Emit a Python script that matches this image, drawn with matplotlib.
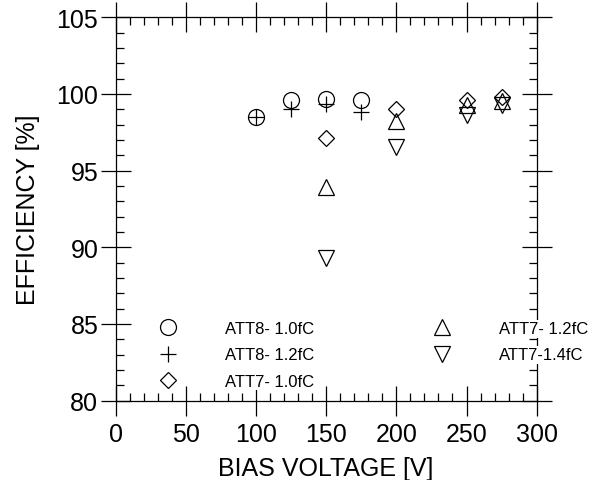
import matplotlib.pyplot as plt
from matplotlib.ticker import MultipleLocator

# Données
bias_att8 = [100, 125, 150, 175]
eff_att8_10 = [98.5, 99.6, 99.7, 99.6]
eff_att8_12 = [98.5, 99.0, 99.35, 98.85]

bias_att7 = [150, 200, 250, 275]
eff_att7_10 = [97.1, 99.0, 99.6, 99.8]
eff_att7_12 = [93.9, 98.25, 99.3, 99.55]
eff_att7_14 = [89.3, 96.55, 98.6, 99.3]

labels = ['ATT8- 1.0fC', 'ATT8- 1.2fC', 'ATT7- 1.0fC', 'ATT7- 1.2fC', 'ATT7-1.4fC']

plt.rcParams['font.family'] = ['Liberation Sans', 'DejaVu Sans']

fig = plt.figure(figsize=(5.96, 4.81), dpi=100)
ax = fig.add_axes([0.194, 0.165, 0.7065, 0.797])

style = dict(linestyle='none', color='black', markerfacecolor='none', markeredgewidth=0.9)
ax.plot(bias_att8, eff_att8_10, marker='o', markersize=11.5, label=labels[0], **style)
ax.plot(bias_att8, eff_att8_12, marker='+', markersize=12, label=labels[1], **style)
ax.plot(bias_att7, eff_att7_10, marker='D', markersize=8.2, label=labels[2], **style)
ax.plot(bias_att7, eff_att7_12, marker='^', markersize=11.5, label=labels[3], **style)
ax.plot(bias_att7, eff_att7_14, marker='v', markersize=11.5, label=labels[4], **style)

ax.set_xlim(0, 300)
ax.set_ylim(80, 105)
ax.xaxis.set_major_locator(MultipleLocator(50))
ax.xaxis.set_minor_locator(MultipleLocator(10))
ax.yaxis.set_major_locator(MultipleLocator(5))
ax.yaxis.set_minor_locator(MultipleLocator(1))

ax.tick_params(which='major', direction='inout', length=21, width=0.9,
               top=True, right=True, labelsize=18)
ax.tick_params(which='minor', direction='in', length=6, width=0.9, top=True, right=True)
ax.tick_params(axis='x', which='major', pad=5)
ax.tick_params(axis='y', which='major', pad=2)
for s in ax.spines.values():
    s.set_linewidth(0.9)

ax.set_xlabel('BIAS VOLTAGE [V]', fontsize=18, labelpad=7)
ax.set_ylabel('EFFICIENCY [%]', fontsize=18, labelpad=12)

leg = ax.legend(ncol=2, frameon=False, loc='upper left', bbox_to_anchor=(0.0896, 0.207),
                borderaxespad=0, borderpad=0, numpoints=1, handlelength=1.78,
                handletextpad=2.5, columnspacing=6.8, labelspacing=0.67,
                prop={'size': 12})
leg.set_zorder(5)
# fond blanc sous les textes (cache l'axe de droite comme sur l'original)
for t in leg.get_texts():
    t.set_bbox(dict(facecolor='white', edgecolor='none', pad=1))

fig.savefig('out.png', dpi=100)
